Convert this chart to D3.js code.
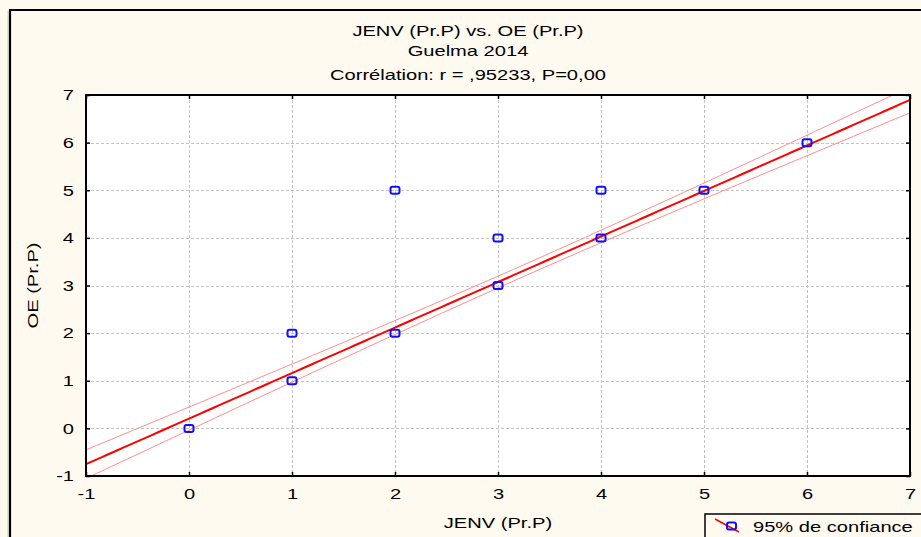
<!DOCTYPE html>
<html>
<head>
<meta charset="utf-8">
<script src="https://cdn.jsdelivr.net/npm/d3@7"></script>
<style>
  html, body { margin: 0; padding: 0; background: #fefaf0; }
  svg { display: block; }
  text { font-family: "Liberation Sans", Arial, sans-serif; fill: #000; }
</style>
</head>
<body>
<svg id="chart" width="921" height="537"></svg>
<script>
// Observations: JENV (x) and OE (y), Guelma 2014
const jenv = [0, 1, 1, 2, 2, 3, 3, 4, 4, 5, 6];
const oe   = [0, 1, 2, 2, 5, 3, 4, 4, 5, 5, 6];

// Axis tick values
const xTicks = [-1, 0, 1, 2, 3, 4, 5, 6, 7];
const yTicks = [-1, 0, 1, 2, 3, 4, 5, 6, 7];

// Fitted regression line and 95% confidence band parameters
const fitIntercept = 0.205;
const fitSlope = 0.956;
const bandMeanX = 3.25;
const bandA = 0.015;
const bandB = 0.00415;

const titleLines = ["JENV (Pr.P) vs. OE (Pr.P)", "Guelma 2014", "Corrélation: r = ,95233, P=0,00"];
const xLabel = "JENV (Pr.P)";
const yLabel = "OE (Pr.P)";
const legendLabel = "95% de confiance";

const svg = d3.select("#chart");
const W = 921, H = 537;
const plot = { left: 86, right: 910, top: 95, bottom: 476 };
const WIDEN = 1.34; // horizontal stretch of the wide sans lettering

// Outer frame with faint shadow
svg.append("rect").attr("x", 0).attr("y", 0).attr("width", W).attr("height", H).attr("fill", "#fefaf0");
svg.append("line").attr("x1", 8).attr("y1", 11).attr("x2", 8).attr("y2", H)
  .attr("stroke", "#c8c8c8").attr("stroke-width", 1);
svg.append("path").attr("d", `M10,${H + 5} L10,10 L${W + 5},10`)
  .attr("fill", "none").attr("stroke", "#000").attr("stroke-width", 2.2);

const x = d3.scaleLinear().domain([-1, 7]).range([plot.left, plot.right]);
const y = d3.scaleLinear().domain([-1, 7]).range([plot.bottom, plot.top]);

// Plot background
svg.append("rect").attr("x", plot.left).attr("y", plot.top)
  .attr("width", plot.right - plot.left).attr("height", plot.bottom - plot.top)
  .attr("fill", "#fff");

// Grid
const grid = svg.append("g").attr("stroke", "#c4c4c4").attr("stroke-width", 1).attr("stroke-dasharray", "3,2");
grid.selectAll(".gx").data(xTicks.slice(1, -1)).join("line")
  .attr("x1", d => Math.round(x(d)) + 0.5).attr("x2", d => Math.round(x(d)) + 0.5)
  .attr("y1", plot.top).attr("y2", plot.bottom);
grid.selectAll(".gy").data(yTicks.slice(1, -1)).join("line")
  .attr("y1", d => Math.round(y(d)) + 0.5).attr("y2", d => Math.round(y(d)) + 0.5)
  .attr("x1", plot.left).attr("x2", plot.right);

// Clip for fitted lines
svg.append("clipPath").attr("id", "clip").append("rect")
  .attr("x", plot.left).attr("y", plot.top)
  .attr("width", plot.right - plot.left).attr("height", plot.bottom - plot.top);

const xs = d3.range(-1, 7.001, 0.05);
const fit = v => fitIntercept + fitSlope * v;
const half = v => Math.sqrt(bandA + bandB * (v - bandMeanX) ** 2);
const lineGen = f => d3.line().x(d => x(d)).y(d => y(f(d)))(xs);

const lines = svg.append("g").attr("clip-path", "url(#clip)").attr("fill", "none");
lines.append("path").attr("d", lineGen(v => fit(v) + half(v))).attr("stroke", "#ff8c8c").attr("stroke-width", 1);
lines.append("path").attr("d", lineGen(v => fit(v) - half(v))).attr("stroke", "#ff8c8c").attr("stroke-width", 1);
lines.append("path").attr("d", lineGen(fit)).attr("stroke", "#f00").attr("stroke-width", 2);

// Points
const pts = jenv.map((v, i) => [v, oe[i]]);
svg.append("g").selectAll("rect").data(pts).join("rect")
  .attr("x", d => x(d[0]) - 4.5).attr("y", d => y(d[1]) - 3.5)
  .attr("width", 9).attr("height", 7).attr("rx", 2)
  .attr("fill", "none").attr("stroke", "#1010ff").attr("stroke-width", 2);

// Axes
const fmt = d => String(d);
const xAxisB = d3.axisBottom(x).tickValues(xTicks).tickSize(-4).tickPadding(12).tickFormat(fmt);
const xAxisT = d3.axisTop(x).tickValues(xTicks).tickSize(-4).tickFormat("");
const yAxisL = d3.axisLeft(y).tickValues(yTicks).tickSize(-4).tickPadding(12).tickFormat(fmt);
const yAxisR = d3.axisRight(y).tickValues(yTicks).tickSize(-4).tickFormat("");

function styleAxis(g) {
  g.select(".domain").remove();
  g.selectAll(".tick line").attr("stroke", "#000").attr("stroke-width", 1.5);
  g.selectAll(".tick text").attr("font-size", 15).attr("font-family", "Liberation Sans, Arial, sans-serif");
}
svg.append("g").attr("transform", `translate(0,${plot.bottom})`).call(xAxisB).call(styleAxis);
svg.append("g").attr("transform", `translate(0,${plot.top})`).call(xAxisT).call(styleAxis);
svg.append("g").attr("transform", `translate(${plot.left},0)`).call(yAxisL).call(styleAxis);
svg.append("g").attr("transform", `translate(${plot.right},0)`).call(yAxisR).call(styleAxis);

// Plot frame
svg.append("rect").attr("x", plot.left).attr("y", plot.top)
  .attr("width", plot.right - plot.left).attr("height", plot.bottom - plot.top)
  .attr("fill", "none").attr("stroke", "#000").attr("stroke-width", 2);

// Titles
const titleY = [36, 56, 80];
titleLines.forEach((t, i) => {
  svg.append("text").attr("x", 468).attr("y", titleY[i])
    .attr("text-anchor", "middle").attr("font-size", 15).text(t);
});

// Axis titles
svg.append("text").attr("x", (plot.left + plot.right) / 2).attr("y", 528)
  .attr("text-anchor", "middle").attr("font-size", 15).text(xLabel);
svg.append("text").attr("transform", `translate(38,${(plot.top + plot.bottom) / 2}) rotate(-90)`)
  .attr("text-anchor", "middle").attr("font-size", 15).text(yLabel);

// Legend
const lg = svg.append("g").attr("transform", "translate(705,514)");
lg.append("rect").attr("x", 0).attr("y", 0).attr("width", 240).attr("height", 40)
  .attr("fill", "#fefaf0").attr("stroke", "#000").attr("stroke-width", 1.5);
lg.append("line").attr("x1", 10).attr("y1", 5).attr("x2", 34).attr("y2", 18)
  .attr("stroke", "#f00").attr("stroke-width", 1.5);
lg.append("rect").attr("x", 22).attr("y", 8.5).attr("width", 9).attr("height", 7).attr("rx", 2)
  .attr("fill", "none").attr("stroke", "#1010ff").attr("stroke-width", 2);
lg.append("text").attr("x", 48).attr("y", 18).attr("font-size", 15).text(legendLabel);

// Stretch all lettering horizontally to the wide face used throughout
svg.selectAll("text").each(function () {
  const len = this.getComputedTextLength();
  if (len > 0) {
    d3.select(this).attr("textLength", len * WIDEN).attr("lengthAdjust", "spacingAndGlyphs");
  }
});
</script>
</body>
</html>
